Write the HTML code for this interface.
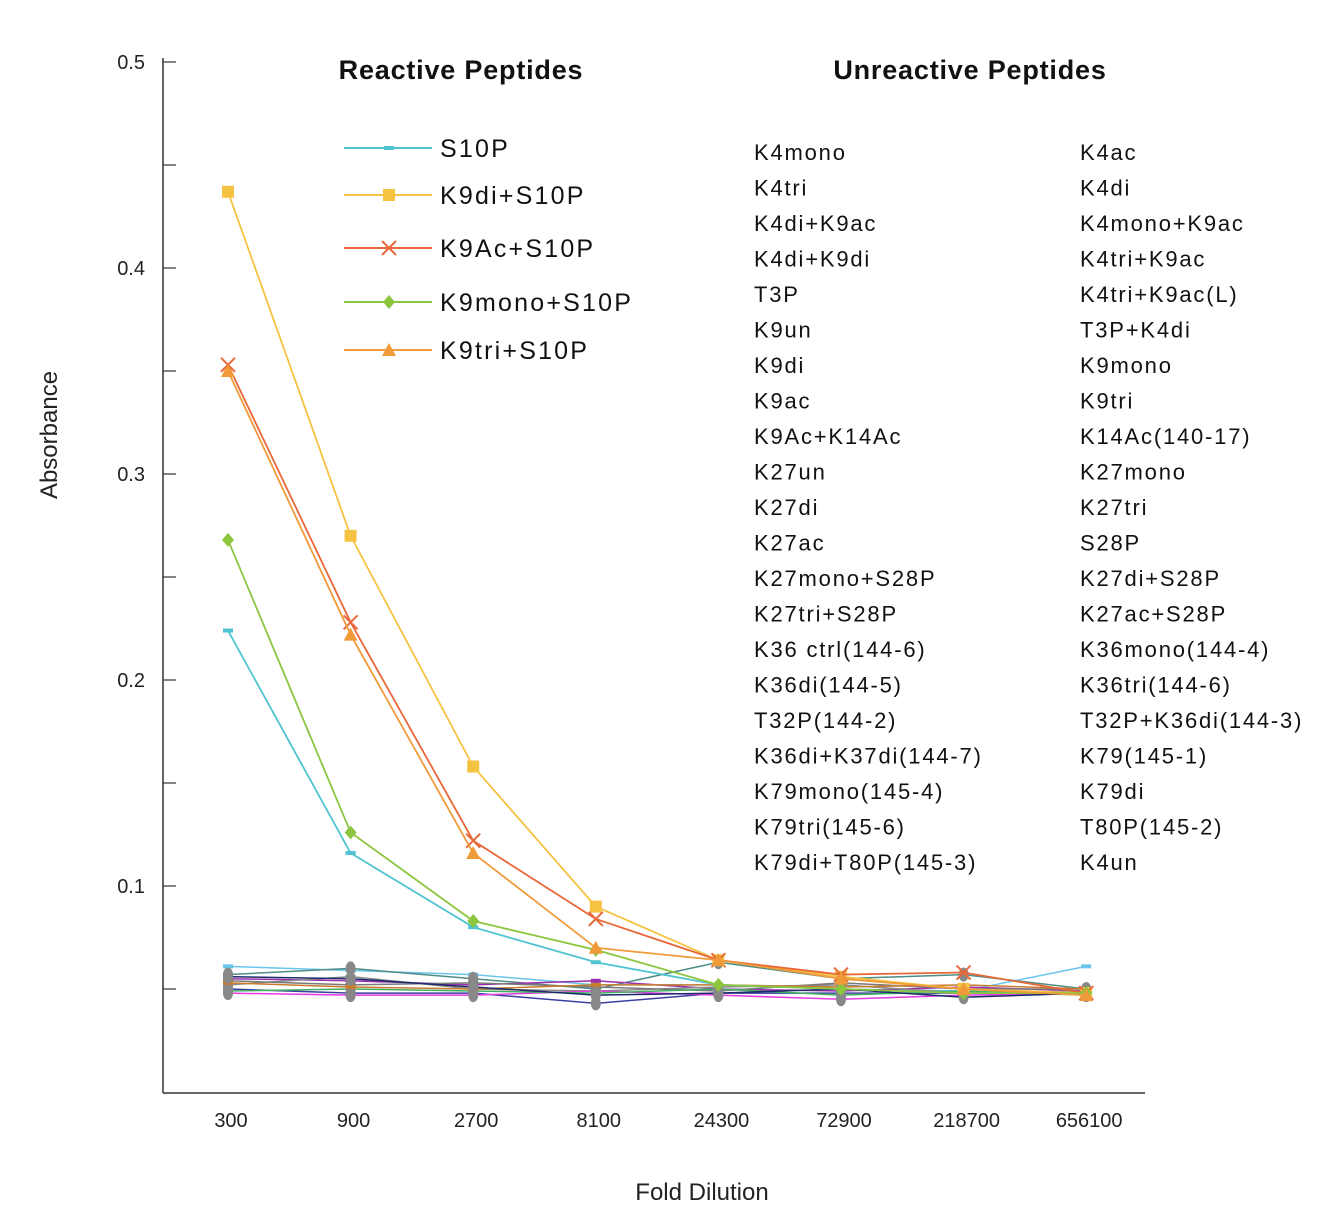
<!DOCTYPE html>
<html><head><meta charset="utf-8"><style>
body{margin:0;background:#fff;font-family:"Liberation Sans",sans-serif}
</style></head><body>
<svg id="chart" width="1342" height="1212" xmlns="http://www.w3.org/2000/svg" font-family="Liberation Sans, sans-serif"></svg>
<script>
const categories=["300","900","2700","8100","24300","72900","218700","656100"];
const yTicks=[0.1,0.2,0.3,0.4,0.5];
const s10p=[0.224,0.116,0.080,0.063,0.052,0.050,0.048,0.048];
const k9di=[0.437,0.270,0.158,0.090,0.064,0.056,0.050,0.048];
const k9ac=[0.353,0.228,0.122,0.084,0.064,0.057,0.058,0.048];
const k9mono=[0.268,0.126,0.083,0.069,0.052,0.050,0.048,0.048];
const k9tri=[0.350,0.222,0.116,0.070,0.064,0.055,0.050,0.047];
const bg1=[0.061,0.059,0.057,0.052,0.052,0.050,0.049,0.061];
const bg2=[0.057,0.060,0.055,0.050,0.063,0.055,0.057,0.050];
const bg3=[0.055,0.054,0.052,0.054,0.050,0.049,0.051,0.049];
const bg4=[0.050,0.048,0.048,0.043,0.048,0.048,0.048,0.048];
const bg5=[0.052,0.056,0.050,0.049,0.051,0.052,0.048,0.049];
const bg6=[0.048,0.047,0.047,0.049,0.047,0.045,0.047,0.048];
const bg7=[0.054,0.052,0.053,0.051,0.049,0.053,0.050,0.050];
const bg8=[0.049,0.050,0.049,0.048,0.050,0.047,0.049,0.047];
const bg9=[0.053,0.051,0.050,0.052,0.052,0.051,0.052,0.050];
const bg10=[0.056,0.055,0.051,0.047,0.048,0.050,0.046,0.048];
const col1=["K4mono","K4tri","K4di+K9ac","K4di+K9di","T3P","K9un","K9di","K9ac","K9Ac+K14Ac","K27un","K27di","K27ac","K27mono+S28P","K27tri+S28P","K36 ctrl(144-6)","K36di(144-5)","T32P(144-2)","K36di+K37di(144-7)","K79mono(145-4)","K79tri(145-6)","K79di+T80P(145-3)"];
const col2=["K4ac","K4di","K4mono+K9ac","K4tri+K9ac","K4tri+K9ac(L)","T3P+K4di","K9mono","K9tri","K14Ac(140-17)","K27mono","K27tri","S28P","K27di+S28P","K27ac+S28P","K36mono(144-4)","K36tri(144-6)","T32P+K36di(144-3)","K79(145-1)","K79di","T80P(145-2)","K4un"];
const svg=document.getElementById('chart');const NS="http://www.w3.org/2000/svg";
function el(t,a,p){const e=document.createElementNS(NS,t);for(const k in a)e.setAttribute(k,a[k]);(p||svg).appendChild(e);return e;}
const X=i=>228+i*122.6, Y=v=>1092-v*2060;
let e;
e=el('line',{x1:163,y1:58,x2:163,y2:1093,stroke:'#333','stroke-width':1.5});


e=el('line',{x1:163,y1:1093,x2:1145,y2:1093,stroke:'#333','stroke-width':1.5});


for(let k=1;k<=10;k++){el('line',{x1:163,x2:176,y1:Y(k*0.05),y2:Y(k*0.05),stroke:'#333','stroke-width':1.2});}
yTicks.forEach(v=>{e=el('text',{x:145,y:Y(v)+7,'text-anchor':'end','font-size':20,fill:'#222'});e.textContent=v;

});
categories.forEach((c,i)=>{e=el('text',{x:X(i)+3,y:1127,'text-anchor':'middle','font-size':20,fill:'#222'});e.textContent=c;

});
e=el('text',{x:702,y:1200,'text-anchor':'middle','font-size':24,fill:'#222'});e.textContent='Fold Dilution';


e=el('text',{x:57,y:435,'text-anchor':'middle','font-size':24,fill:'#222',transform:'rotate(-90 57 435)'});e.textContent='Absorbance';


function marker(g,type,x,y,c){
 if(type==='rect')el('rect',{x:x-5,y:y-2,width:10,height:4,fill:c},g);
 else if(type==='sq')el('rect',{x:x-6,y:y-6,width:12,height:12,fill:c},g);
 else if(type==='x'){el('path',{d:`M${x-7} ${y-7}L${x+7} ${y+7}M${x-7} ${y+7}L${x+7} ${y-7}`,stroke:c,'stroke-width':2},g);}
 else if(type==='dia')el('path',{d:`M${x} ${y-7}L${x+6} ${y}L${x} ${y+7}L${x-6} ${y}Z`,fill:c},g);
 else if(type==='tri')el('path',{d:`M${x} ${y-7}L${x+7} ${y+6}L${x-7} ${y+6}Z`,fill:c},g);
 else if(type==='dot')el('ellipse',{cx:x,cy:y,rx:5,ry:7,fill:c},g);
}
const bgSeries=[[bg1,'#6ac5ec'],[bg2,'#4e8d86'],[bg3,'#9b2fae'],[bg4,'#3b3f9e'],[bg5,'#8a8a8a'],[bg6,'#e23be0'],[bg7,'#7a7a7a'],[bg8,'#41b060'],[bg9,'#c97d2b'],[bg10,'#1c2a6a']];
bgSeries.forEach(([d,c],si)=>{const g=el('g',{});


el('polyline',{points:d.map((v,i)=>X(i)+','+Y(v)).join(' '),fill:'none',stroke:c,'stroke-width':1.5},g);
d.forEach((v,i)=>marker(g,si%2?'dot':'rect',X(i),Y(v),si%2?'#888':c));});
const main=[[s10p,'#4fc3d0','rect','S10P'],[k9di,'#f5c242','sq','K9di+S10P'],[k9ac,'#e8683a','x','K9Ac+S10P'],[k9mono,'#8cc63f','dia','K9mono+S10P'],[k9tri,'#f09a3a','tri','K9tri+S10P']];
main.forEach(([d,c,m,n],si)=>{const g=el('g',{});


el('polyline',{points:d.map((v,i)=>X(i)+','+Y(v)).join(' '),fill:'none',stroke:c,'stroke-width':1.8},g);
d.forEach((v,i)=>marker(g,m,X(i),Y(v),c));
const ly=[148,195,248,302,350][si];
const lg=el('g',{},svg);


el('line',{x1:344,x2:432,y1:ly,y2:ly,stroke:c,'stroke-width':2},lg);
marker(lg,m==='rect'?'rect':m,389,ly,c);
const t=el('text',{x:440,y:ly+9,'font-size':25,'letter-spacing':2.2,fill:'#111'},lg);t.textContent=n;});
e=el('text',{x:461,y:79,'text-anchor':'middle','font-size':27,'letter-spacing':0.8,'font-weight':'bold',fill:'#111'});e.textContent='Reactive Peptides';


e=el('text',{x:970,y:79,'text-anchor':'middle','font-size':27,'letter-spacing':0.8,'font-weight':'bold',fill:'#111'});e.textContent='Unreactive Peptides';


col1.forEach((t,i)=>{e=el('text',{x:754,y:160+i*35.5,'font-size':22,'letter-spacing':1.8,fill:'#111'});e.textContent=t;

});
col2.forEach((t,i)=>{e=el('text',{x:1080,y:160+i*35.5,'font-size':22,'letter-spacing':1.8,fill:'#111'});e.textContent=t;

});
</script>
</body></html>
